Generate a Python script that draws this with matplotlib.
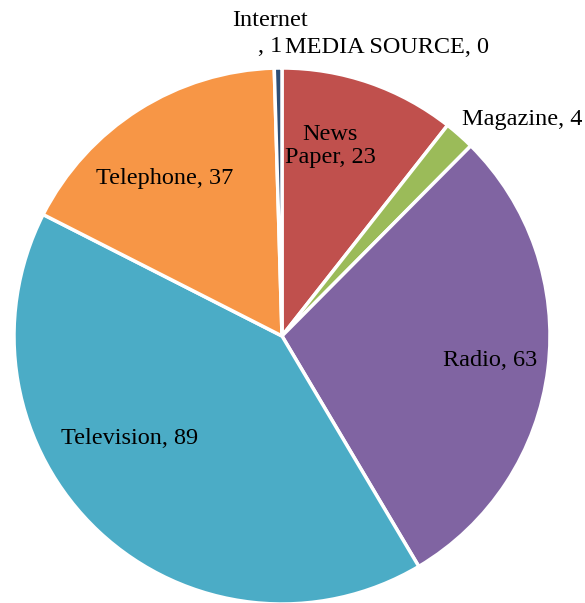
import matplotlib.pyplot as plt

# Data
categories = ['MEDIA SOURCE', 'News Paper', 'Magazine', 'Radio', 'Television', 'Telephone', 'Internet']
counts = [0, 23, 4, 63, 89, 37, 1]
colors = ['#4F81BD', '#C0504D', '#9BBB59', '#8064A2', '#4BACC6', '#F79646', '#2C4D75']
label_text = ['MEDIA SOURCE, 0', 'News\nPaper, 23', 'Magazine, 4', 'Radio, 63',
              'Television, 89', 'Telephone, 37', 'Internet\n, 1']

# label positions in pie units (radius = 1)
label_pos = [(0.392, 1.078), (0.179, 0.709), (0.896, 0.806), (0.776, -0.093),
             (-0.567, -0.381), (-0.437, 0.586), (-0.046, 1.129)]

plt.rcParams['font.family'] = ['Liberation Serif', 'DejaVu Serif']

fig = plt.figure(figsize=(5.85, 6.03), dpi=100)
cx, cy, r = 282, 336, 268
ax = fig.add_axes([(cx - r) / 585, (603 - cy - r) / 603, 2 * r / 585, 2 * r / 603])

ax.pie(counts, colors=colors, startangle=90, counterclock=False, radius=1,
       wedgeprops=dict(edgecolor='white', linewidth=2.5))

line_h = 0.05  # half the line step, in pie units
for txt, (x, y) in zip(label_text, label_pos):
    lines = txt.split('\n')
    if txt.startswith('Internet'):
        # wrapped label: draw each line on its own so the lines stay centred
        ax.text(x, y + line_h, lines[0], ha='center', va='center', fontsize=17.5)
        ax.text(x, y - line_h, lines[1], ha='center', va='center', fontsize=17.5)
    else:
        ax.text(x, y, txt, ha='center', va='center', fontsize=17.5, linespacing=1.15)

ax.set_xlim(-1, 1)
ax.set_ylim(-1, 1)
ax.set_aspect('auto')
ax.axis('off')

plt.savefig('out.png', dpi=100)
